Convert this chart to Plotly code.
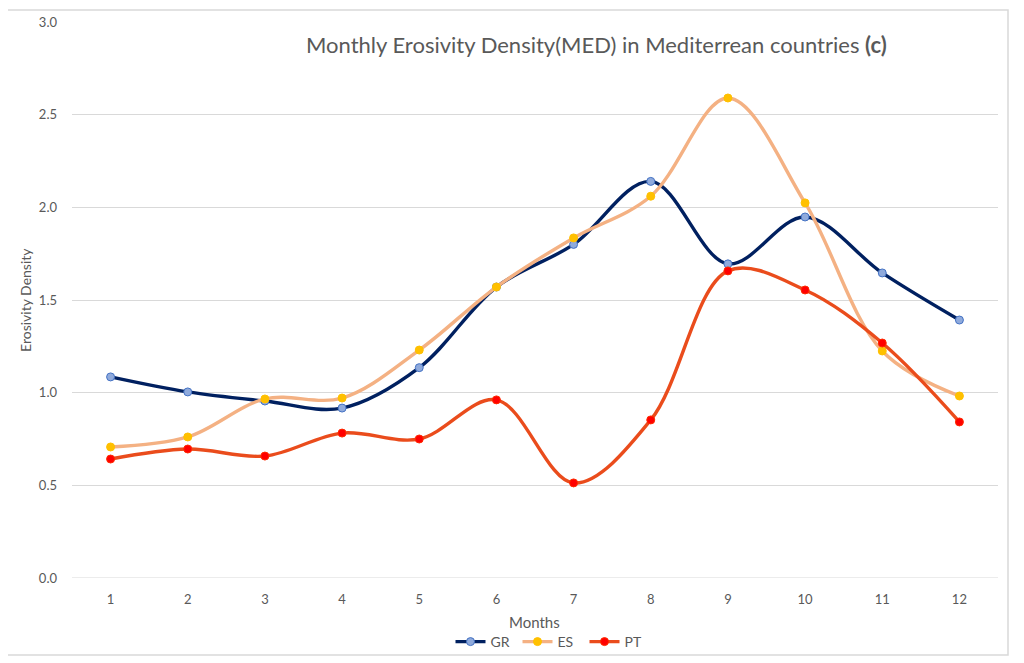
import plotly.graph_objects as go

months = [1, 2, 3, 4, 5, 6, 7, 8, 9, 10, 11, 12]
month_labels = [str(m) for m in months]
gr = [1.085, 1.004, 0.955, 0.917, 1.135, 1.57, 1.80, 2.14, 1.695, 1.948, 1.646, 1.392]
es = [0.707, 0.761, 0.966, 0.971, 1.23, 1.57, 1.835, 2.06, 2.59, 2.024, 1.225, 0.982]
pt = [0.642, 0.696, 0.658, 0.782, 0.75, 0.961, 0.513, 0.853, 1.657, 1.554, 1.268, 0.842]
y_ticks = [0.0, 0.5, 1.0, 1.5, 2.0, 2.5, 3.0]

FONT = "Lato, 'Open Sans', sans-serif"
GRAY = "#595959"

# target plot area on screen: x 72..998, y 22..578 (page has 8px body margin)
PX0, PX1, PY0, PY1 = 72, 998, 22, 578
PW, PH = PX1 - PX0, PY1 - PY0


def px(x):
    return (x - PX0) / PW


def py(y):
    return (PY1 - y) / PH


fig = go.Figure()
series = [
    ("GR", gr, "#002060", "#8faadc", "#4472c4"),
    ("ES", es, "#f4b183", "#ffc000", "#ffc000"),
    ("PT", pt, "#ea4c1c", "#ff0000", "#ff2a00"),
]
for name, vals, lc, mc, ml in series:
    fig.add_trace(go.Scatter(
        x=months, y=vals, name=name, mode="lines+markers",
        line=dict(color=lc, width=3.4, shape="spline", smoothing=1.0),
        marker=dict(color=mc, size=8, line=dict(color=ml, width=1)),
    ))

fig.update_layout(
    width=1024, height=663,
    margin=dict(l=PX0 - 8, r=1024 - (PX1 - 8), t=PY0 - 8, b=663 - (PY1 - 8), autoexpand=False),
    paper_bgcolor="white", plot_bgcolor="white",
    font=dict(family=FONT, color=GRAY, size=13),
    showlegend=True,
    legend=dict(orientation="h", x=px(551), xanchor="center", y=py(642), yanchor="middle",
                bgcolor="rgba(0,0,0,0)",
                font=dict(size=14, color=GRAY), entrywidth=22, entrywidthmode="pixels",
                itemwidth=30, tracegroupgap=0),
    xaxis=dict(range=[0.5, 12.5], tickmode="array", tickvals=months, ticktext=month_labels,
               showgrid=False, zeroline=False, showline=False, ticks="",
               ticklabelstandoff=12,
               tickfont=dict(size=13, color=GRAY)),
    yaxis=dict(range=[0, 3.0], tickmode="array", tickvals=y_ticks,
               ticktext=[f"{v:.1f}" for v in y_ticks],
               showgrid=True, gridcolor="#d9d9d9", gridwidth=1,
               zeroline=False, showline=False, ticks="",
               ticklabelstandoff=14,
               tickfont=dict(size=13, color=GRAY)),
)

fig.add_shape(type="line", xref="paper", yref="y", x0=0, x1=1, y0=0, y1=0,
              line=dict(color="#d9d9d9", width=1), layer="below")
fig.add_shape(type="rect", xref="paper", yref="paper",
              x0=px(7), x1=px(1008), y0=py(655), y1=py(10),
              line=dict(color="#d9d9d9", width=1.5), layer="below")

fig.add_annotation(xref="paper", yref="paper", x=px(596), y=py(45),
                   text="Monthly Erosivity Density(MED) in Mediterrean countries <b>(c)</b>",
                   showarrow=False, xanchor="center", yanchor="middle",
                   font=dict(size=22, color=GRAY, family=FONT))
fig.add_annotation(xref="paper", yref="paper", x=px(534), y=py(622),
                   text="Months", showarrow=False, xanchor="center", yanchor="middle",
                   font=dict(size=15, color=GRAY, family=FONT))
fig.add_annotation(xref="paper", yref="paper", x=px(25), y=py(300),
                   text="Erosivity Density", showarrow=False, textangle=-90,
                   xanchor="center", yanchor="middle",
                   font=dict(size=14, color=GRAY, family=FONT))

fig.write_html("out.html")
